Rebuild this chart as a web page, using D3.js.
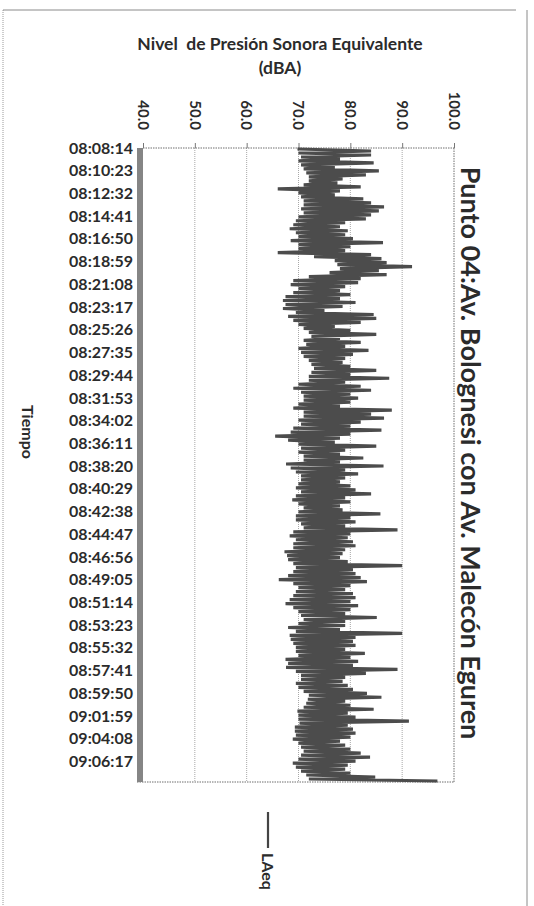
<!DOCTYPE html>
<html>
<head>
<meta charset="utf-8">
<script src="https://cdn.jsdelivr.net/npm/d3@7"></script>
<style>
  body { margin: 0; background: #fff; }
  svg { display: block; font-family: Lato, "Open Sans", sans-serif; }
</style>
</head>
<body>
<div id="chart"></div>
<script>
// Punto 04 - LAeq record, chart is laid out rotated (page turned 90 deg)

const chartTitle = "Punto 04:Av. Bolognesi con Av. Malecón Eguren";
const valueTitle = ["Nivel  de Presión Sonora Equivalente", "(dBA)"];
const timeTitle = "Tiempo";
const seriesName = "LAeq";

const timeLabels = [
  "08:08:14", "08:10:23", "08:12:32", "08:14:41", "08:16:50", "08:18:59", "08:21:08",
  "08:23:17", "08:25:26", "08:27:35", "08:29:44", "08:31:53", "08:34:02", "08:36:11",
  "08:38:20", "08:40:29", "08:42:38", "08:44:47", "08:46:56", "08:49:05", "08:51:14",
  "08:53:23", "08:55:32", "08:57:41", "08:59:50", "09:01:59", "09:04:08", "09:06:17"
];
const startTime = "08:08:14";
const endTime = "09:08:14";

const valueTicks = [40, 50, 60, 70, 80, 90, 100];

// LAeq readings (dBA) in time order
const laeq = [
  69.8, 84, 70, 84, 70.5, 78, 70, 84.5, 70.5, 77, 71, 85.5, 71.5, 83, 72, 78.5,
  72, 77.5, 71, 82, 66, 78, 70, 77, 70.5, 82.5, 71, 84, 71, 86.5, 70.5, 85.5,
  71, 84, 70, 83, 69.5, 79, 69, 78, 68.3, 79.5, 69.5, 79, 70, 80.5, 68.5, 86.3,
  70, 80, 70, 79, 66, 84, 73, 86, 77, 87, 77.5, 91.9, 78, 85.5, 76, 87,
  72, 82, 69, 81.5, 68.5, 79, 70, 78, 69, 80, 67.5, 78, 67, 81,
  67.5, 78.5, 67, 75, 69.5, 84.5, 68, 85, 69, 82, 70, 77, 71, 80, 72, 85,
  72.5, 78, 71, 82, 71.5, 79, 70, 83.5, 70.5, 80.5, 71, 79, 72, 78.5, 72.5, 80,
  73, 85, 72.5, 80, 72, 87.5, 72, 79, 70, 82, 69, 84, 70.5, 80, 71, 81.5,
  71, 80, 70, 78, 69, 88, 71, 84, 71, 86.5, 70, 82, 70.5, 80, 69, 86,
  68.5, 80, 65.5, 78, 68, 77, 70, 85, 70.5, 79, 70, 78, 71, 82.5, 71, 78,
  67.6, 86.4, 68.5, 79, 69.5, 81.5, 70.5, 79, 70.5, 78, 70, 80, 69.5, 81, 70.5, 84,
  69.5, 79, 68.8, 80, 70, 78, 71, 78.5, 70, 85.8, 69.5, 80, 69.5, 81, 70.5, 79,
  71, 89.1, 69, 80, 68.3, 79.5, 69.5, 80.5, 69, 81, 69, 79, 67.3, 78.5, 67.8, 78,
  68, 79.5, 69, 90, 69.5, 80.5, 69, 81, 68, 82, 66.2, 83.2, 69, 80, 70, 79,
  69.5, 80.5, 69, 81, 68.3, 80, 67.5, 81.5, 69, 80, 70, 79, 70.5, 85.1, 71, 79,
  70, 79, 68, 78, 69.5, 90, 68.3, 81, 68.5, 80.5, 69, 81, 69.5, 79, 69.5, 82.8,
  70, 80, 67.5, 81.5, 68, 80.5, 67.6, 89.1, 69.5, 83, 70.5, 79, 70.5, 78.5, 69.5, 79.5,
  70, 80.5, 71, 83.2, 72, 86, 71.8, 79, 71.5, 80, 71, 84.5, 69.8, 79.5, 70, 81,
  70, 91.3, 70.2, 79.5, 69.3, 80.5, 69.3, 81, 69.5, 80, 68.9, 78, 70, 79, 70.5, 80,
  71, 82, 70.5, 83.8, 70, 81, 68.9, 79.5, 69.5, 79, 70.5, 80, 71.5, 84.8, 72, 96.8
];

const width = 534;
const height = 906;
const plot = { left: 143, right: 454, top: 148, bottom: 782 };
const textColor = "#2b2b2b";

const svg = d3.select("#chart").append("svg")
    .attr("width", width)
    .attr("height", height);

svg.append("rect")
    .attr("width", width)
    .attr("height", height)
    .attr("fill", "#fff");

// page frame from the scan
svg.append("line")
    .attr("x1", 3).attr("x2", 3).attr("y1", 10).attr("y2", height)
    .attr("stroke", "#9a9a9a").attr("stroke-dasharray", "1,1");
svg.append("line")
    .attr("x1", 3).attr("x2", 516).attr("y1", 10).attr("y2", 10)
    .attr("stroke", "#8a8a8a");
svg.append("line")
    .attr("x1", 527).attr("x2", 527).attr("y1", 10).attr("y2", height)
    .attr("stroke", "#8a8a8a");

const parse = d3.timeParse("%H:%M:%S");
const yTime = d3.scaleTime()
    .domain([parse(startTime), parse(endTime)])
    .range([plot.top, plot.bottom]);

const yIdx = d3.scaleLinear()
    .domain([0, laeq.length - 1])
    .range([plot.top + 1, plot.bottom - 1]);

const xVal = d3.scaleLinear()
    .domain([40, 100])
    .range([plot.left, plot.right]);

// gridlines
svg.append("g")
    .selectAll("line")
    .data(valueTicks.slice(1, -1))
    .join("line")
    .attr("x1", d => xVal(d)).attr("x2", d => xVal(d))
    .attr("y1", plot.top).attr("y2", plot.bottom)
    .attr("stroke", "#a8a8a8")
    .attr("stroke-dasharray", "1,1");

// plot frame (dotted)
const frame = svg.append("g")
    .attr("stroke", "#6f6f6f")
    .attr("stroke-dasharray", "1.5,1");
frame.append("line")
    .attr("x1", plot.left).attr("x2", plot.right)
    .attr("y1", plot.top).attr("y2", plot.top);
frame.append("line")
    .attr("x1", plot.left - 6).attr("x2", plot.right)
    .attr("y1", plot.bottom).attr("y2", plot.bottom);
frame.append("line")
    .attr("x1", plot.right).attr("x2", plot.right)
    .attr("y1", plot.top).attr("y2", plot.bottom);

// value axis on top
svg.append("g")
    .attr("transform", `translate(0,${plot.top})`)
    .call(d3.axisTop(xVal).tickValues(valueTicks).tickSize(5).tickFormat(""))
    .call(g => g.select(".domain").remove())
    .call(g => g.selectAll(".tick line").attr("stroke", "#777"));

svg.append("g")
    .selectAll("text")
    .data(valueTicks)
    .join("text")
    .attr("transform", d => `translate(${xVal(d)},130) rotate(90)`)
    .attr("dy", "0.35em")
    .attr("text-anchor", "end")
    .attr("font-size", 15)
    .attr("font-weight", "bold")
    .attr("fill", textColor)
    .text(d => d3.format(".1f")(d));

// series
const line = d3.line()
    .x(d => xVal(d))
    .y((d, i) => yIdx(i));

svg.append("path")
    .datum(laeq)
    .attr("fill", "none")
    .attr("stroke", "#4c4c4c")
    .attr("stroke-width", 3.2)
    .attr("stroke-linejoin", "bevel")
    .attr("d", line);

// time axis: thick gray bar + labels
svg.append("rect")
    .attr("x", plot.left - 6)
    .attr("y", plot.top)
    .attr("width", 6)
    .attr("height", plot.bottom - plot.top)
    .attr("fill", "#858585");

svg.append("g")
    .attr("transform", `translate(${plot.left - 6},0)`)
    .call(d3.axisLeft(yTime)
        .tickValues(timeLabels.map(parse))
        .tickFormat(d3.timeFormat("%H:%M:%S"))
        .tickSize(0)
        .tickPadding(4))
    .call(g => g.select(".domain").remove())
    .call(g => g.selectAll("text")
        .attr("font-family", "Lato, sans-serif")
        .attr("font-size", 16)
        .attr("font-weight", "bold")
        .attr("fill", textColor));

// value axis title
svg.append("g")
    .selectAll("text")
    .data(valueTitle)
    .join("text")
    .attr("x", 280)
    .attr("y", (d, i) => 50 + i * 24)
    .attr("text-anchor", "middle")
    .attr("font-size", 17.5)
    .attr("font-weight", "bold")
    .attr("fill", textColor)
    .style("white-space", "pre")
    .text(d => d);

// time axis title
svg.append("text")
    .attr("transform", "translate(28,432) rotate(90)")
    .attr("dy", "0.35em")
    .attr("text-anchor", "middle")
    .attr("font-size", 16)
    .attr("font-weight", "bold")
    .attr("fill", textColor)
    .text(timeTitle);

// chart title
svg.append("text")
    .attr("transform", "translate(470,453) rotate(90)")
    .attr("dy", "0.35em")
    .attr("text-anchor", "middle")
    .attr("font-size", 27)
    .attr("font-weight", "bold")
    .attr("fill", textColor)
    .text(chartTitle);

// legend
svg.append("line")
    .attr("x1", 268).attr("x2", 268)
    .attr("y1", 812).attr("y2", 848)
    .attr("stroke", "#444")
    .attr("stroke-width", 2.2);

svg.append("text")
    .attr("transform", "translate(268,853) rotate(90)")
    .attr("dy", "0.35em")
    .attr("font-size", 16)
    .attr("font-weight", "bold")
    .attr("fill", textColor)
    .text(seriesName);
</script>
</body>
</html>
